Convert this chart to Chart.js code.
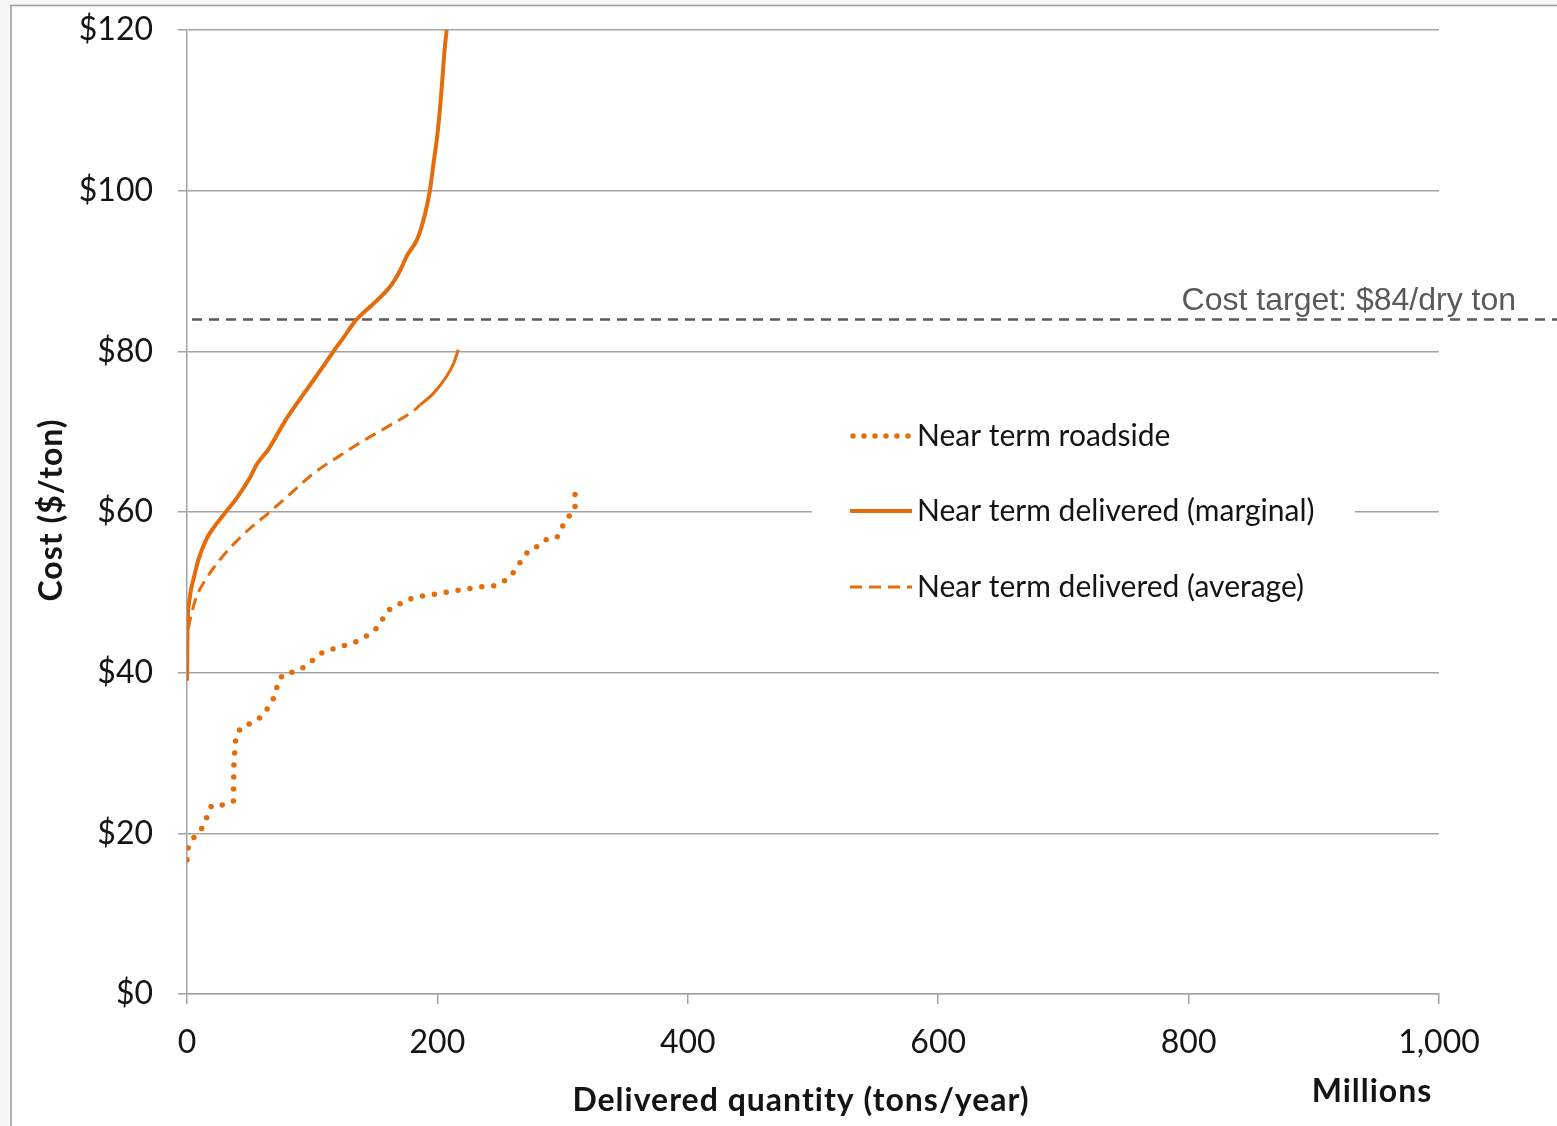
<!DOCTYPE html>
<html>
<head>
<meta charset="utf-8">
<script src="https://cdn.jsdelivr.net/npm/chart.js@4.4.1/dist/chart.umd.min.js"></script>
<style>
  html, body { margin: 0; padding: 0; background: #ffffff; }
  #wrap { width: 1557px; height: 1126px; position: relative; }
  canvas { display: block; }
</style>
</head>
<body>
<div id="wrap"><canvas id="c" width="1557" height="1126"></canvas></div>
<script>
// Supply curves: delivered quantity (million tons/year) vs cost ($/ton)
const roadsideQty  = [0, 1, 3.7, 7.7, 11.7, 14.4, 17, 19.7, 27.7, 37, 37.5, 39.1, 43.7, 53, 60.2, 66.3, 70.8, 72.4, 76.9, 79.6, 86.3, 93.7, 100.9, 108.9, 118.2, 130.2, 137.4, 144.8, 152, 156.8, 159.5, 166.1, 173.3, 181.3, 190.9, 206.1, 222.8, 235.4, 244.7, 251.4, 258, 261.2, 266, 270.8, 276.6, 280.6, 287.3, 295.3, 299.3, 303.3, 309.9, 309.9];
const roadsideCost = [16.7, 18.3, 19.2, 19.8, 20.6, 21.4, 22.5, 23.5, 23.5, 24, 28.8, 32.1, 33.3, 33.8, 34.6, 36, 37.3, 38.8, 39.8, 40, 40.1, 40.7, 41.6, 42.6, 43, 43.6, 44, 44.7, 45.6, 46.8, 47.6, 48.3, 48.8, 49.4, 49.6, 50, 50.4, 50.7, 50.8, 51.2, 51.9, 52.6, 53.7, 54.8, 55.6, 55.7, 56.6, 56.8, 58, 59.2, 60.2, 63.6];

const marginalQty  = [0, 0.2, 0.4, 1.5, 3, 5, 9, 15.7, 22, 30, 40, 50, 56, 65, 79, 90, 101, 110, 117, 125, 134, 148, 162, 170, 176, 184, 190, 194, 197, 200, 202.5, 204.5, 206, 207.4];
const marginalCost = [39, 42, 46, 48.5, 50.2, 51.5, 54, 56.7, 58.2, 59.8, 61.8, 64.2, 66, 67.8, 71.5, 74, 76.4, 78.4, 80, 81.7, 83.7, 85.8, 88, 90, 92, 94, 97, 100, 103.5, 107, 111, 115, 118, 120];

const averageQty  = [1, 3.7, 7.7, 15, 26, 45, 66, 85, 101, 120, 138, 160, 181, 186, 197, 207, 213, 216.6];
const averageCost = [45.5, 47.4, 49.5, 51.6, 54, 57.2, 60, 62.6, 64.8, 66.8, 68.6, 70.6, 72.6, 73.3, 74.8, 76.8, 78.5, 80.2];

const seriesNames = ['Near term roadside', 'Near term delivered (marginal)', 'Near term delivered (average)'];
const xTickValues = [0, 200, 400, 600, 800, 1000];
const yTickValues = [0, 20, 40, 60, 80, 100, 120];
const costTarget = 84;
const costTargetLabel = 'Cost target: $84/dry ton';
const xTitle = 'Delivered quantity (tons/year)';
const xUnitLabel = 'Millions';
const yTitle = 'Cost ($/ton)';

const ORANGE = '#E46C0A';
const GRID = '#a3a3a3';
const TEXT = '#141414';

const pts = (xs, ys) => xs.map((x, i) => ({ x, y: ys[i] }));

// Frame, titles, target line and legend drawn on the canvas
const decorations = {
  id: 'decorations',
  beforeDraw(chart) {
    const { ctx, width, height } = chart;
    ctx.save();
    ctx.fillStyle = '#f6f6f6';
    ctx.fillRect(0, 0, width, height);
    ctx.fillStyle = '#ffffff';
    ctx.fillRect(11, 5, width - 11, height - 5);
    ctx.strokeStyle = '#9b9b9b';
    ctx.lineWidth = 1.5;
    ctx.beginPath();
    ctx.moveTo(11, height);
    ctx.lineTo(11, 5.5);
    ctx.lineTo(width, 5.5);
    ctx.stroke();
    ctx.restore();
  },
  beforeDatasetsDraw(chart) {
    const { ctx, width, scales: { x, y } } = chart;
    const yy = Math.round(y.getPixelForValue(costTarget)) + 0.5;
    ctx.save();
    ctx.strokeStyle = '#5a5a5a';
    ctx.lineWidth = 2.5;
    ctx.setLineDash([10, 7]);
    ctx.beginPath();
    ctx.moveTo(x.getPixelForValue(0) + 5, yy);
    ctx.lineTo(width, yy);
    ctx.stroke();
    ctx.setLineDash([]);
    ctx.fillStyle = '#595959';
    ctx.font = '32px "Liberation Sans", Arial, sans-serif';
    ctx.textAlign = 'right';
    ctx.textBaseline = 'alphabetic';
    ctx.fillText(costTargetLabel, 1516, yy - 10);
    ctx.restore();
  },
  afterDraw(chart) {
    const { ctx } = chart;
    ctx.save();
    // axis titles
    ctx.fillStyle = TEXT;
    ctx.font = 'bold 32px Lato, sans-serif';
    ctx.letterSpacing = '1px';
    ctx.textAlign = 'center';
    ctx.textBaseline = 'middle';
    ctx.fillText(xTitle, 801, 1101);
    ctx.fillText(xUnitLabel, 1372, 1092);
    ctx.save();
    ctx.translate(52, 510);
    ctx.rotate(-Math.PI / 2);
    ctx.fillText(yTitle, 0, 0);
    ctx.restore();
    ctx.letterSpacing = '0px';

    // legend
    const lx = 812, ly = 400, lw = 543, lh = 225;
    ctx.fillStyle = '#ffffff';
    ctx.fillRect(lx, ly, lw, lh);
    const rows = [436, 511, 587];
    chart.data.datasets.forEach((ds, i) => {
      const ry = rows[i];
      ctx.strokeStyle = ds.borderColor;
      ctx.lineWidth = i === 0 ? 5.5 : (i === 1 ? 4 : 3);
      ctx.lineCap = i === 0 ? 'round' : 'butt';
      ctx.setLineDash(i === 0 ? [0, 11] : (i === 2 ? [12, 7] : []));
      ctx.beginPath();
      ctx.moveTo(i === 0 ? 853 : 850, ry);
      ctx.lineTo(912, ry);
      ctx.stroke();
      ctx.setLineDash([]);
      ctx.fillStyle = TEXT;
      ctx.font = '30px Lato, sans-serif';
      ctx.textAlign = 'left';
      ctx.textBaseline = 'middle';
      ctx.fillText(ds.label, 917, ry);
    });
    ctx.restore();
  }
};

new Chart(document.getElementById('c'), {
  type: 'scatter',
  data: {
    datasets: [
      {
        label: seriesNames[0],
        data: pts(roadsideQty, roadsideCost),
        showLine: true,
        borderColor: ORANGE,
        borderWidth: 5.5,
        borderDash: [0, 12],
        borderCapStyle: 'round',
        pointRadius: 0,
        tension: 0
      },
      {
        label: seriesNames[1],
        data: pts(marginalQty, marginalCost),
        showLine: true,
        borderColor: ORANGE,
        borderWidth: 4,
        borderJoinStyle: 'round',
        pointRadius: 0,
        cubicInterpolationMode: 'monotone'
      },
      {
        label: seriesNames[2],
        data: pts(averageQty, averageCost),
        showLine: true,
        borderColor: ORANGE,
        borderWidth: 3,
        borderDash: [12, 7],
        pointRadius: 0,
        cubicInterpolationMode: 'monotone',
        segment: {
          borderDash: c => (c.p0.parsed.x >= 186 ? [] : undefined)
        }
      }
    ]
  },
  options: {
    responsive: false,
    animation: false,
    events: [],
    layout: { padding: { left: 0, right: 118, top: 30, bottom: 0 } },
    plugins: { legend: { display: false }, tooltip: { enabled: false } },
    scales: {
      x: {
        type: 'linear',
        min: 0,
        max: 1000,
        afterFit: s => { s.height = 132; s.paddingLeft = 0; s.paddingRight = 0; },
        afterBuildTicks: s => { s.ticks = xTickValues.map(v => ({ value: v })); },
        grid: { drawOnChartArea: false, drawTicks: true, tickLength: 10, color: GRID, lineWidth: 1.5 },
        border: { display: true, color: GRID, width: 1.5 },
        ticks: {
          padding: 19,
          color: TEXT,
          font: { family: 'Lato, sans-serif', size: 32 },
          callback: v => v.toLocaleString('en-US')
        }
      },
      y: {
        type: 'linear',
        min: 0,
        max: 120,
        afterFit: s => { s.width = 187; s.paddingTop = 0; s.paddingBottom = 0; },
        afterBuildTicks: s => { s.ticks = yTickValues.map(v => ({ value: v })); },
        grid: { drawOnChartArea: true, drawTicks: true, tickLength: 9, color: GRID, lineWidth: 1.5 },
        border: { display: true, color: GRID, width: 1.5 },
        ticks: {
          padding: 25,
          color: TEXT,
          font: { family: 'Lato, sans-serif', size: 32 },
          callback: v => '$' + v
        }
      }
    }
  },
  plugins: [decorations]
});
</script>
</body>
</html>
